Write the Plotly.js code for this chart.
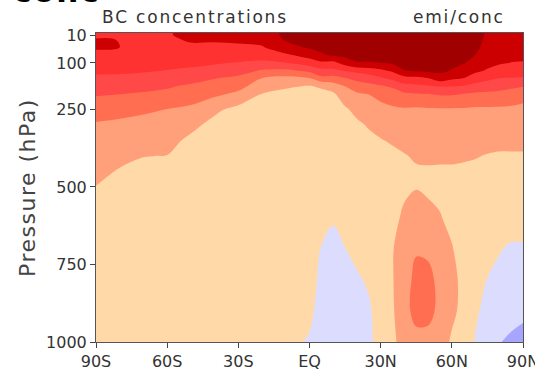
<!DOCTYPE html>
<html>
<head>
<meta charset="utf-8">
<script src="https://cdn.plot.ly/plotly-3.0.1.min.js"></script>
<style>
  html, body { margin: 0; padding: 0; background: #fff; }
  #chart { width: 535px; height: 371px; }
  .annotation-text { letter-spacing: 1.8px; }
  .ytitle { letter-spacing: 1.5px; }
</style>
</head>
<body>
<div id="chart"></div>
<script>
// Latitudes (deg, negative = south) and pressure levels (hPa)
const LAT = [-90,-80,-70,-60,-50,-40,-30,-20,-10,0,5,10,15,20,25,30,35,40,45,50,55,60,65,70,75,80,85,90];
const PRES = [3,10,25,50,75,100,125,150,175,200,250,300,350,400,450,500,600,700,800,900,1000];

// Shading class, one vertical profile per latitude
// (0 = blue ... 2 = neutral ... 8 = darkest red)
const prof_s90 = [6.2,6.2,6.6,6.6,6.25,5.9,5.65,5.35,5.0,4.6,3.95,3.4,3.2,3.0,2.75,2.48,2.1,2.0,2.0,2.0,2.0];
const prof_s80 = [6.2,6.2,6.48,6.5,6.15,5.85,5.62,5.35,5.05,4.52,3.8,3.3,3.0,2.75,2.42,2.2,2.0,2.0,2.0,2.0,2.0];
const prof_s70 = [6.2,6.2,6.15,6.05,5.9,5.75,5.56,5.3,4.8,4.4,3.65,3.2,2.85,2.52,2.3,2.15,2.0,2.0,2.0,2.0,2.0];
const prof_s60 = [6.4,6.4,6.3,6.05,5.85,5.7,5.48,5.1,4.6,4.3,3.48,3.1,2.8,2.48,2.3,2.15,2.0,2.0,2.0,2.0,2.0];
const prof_s50 = [6.8,6.8,6.62,6.3,5.95,5.7,5.35,4.85,4.35,4.0,3.3,2.75,2.3,2.1,2.0,2.0,2.0,2.0,2.0,2.0,2.0];
const prof_s40 = [6.8,6.8,6.6,6.3,5.9,5.57,5.2,4.52,4.15,3.7,2.7,2.2,2.05,2.0,2.0,2.0,2.0,2.0,2.0,2.0,2.0];
const prof_s30 = [6.9,6.9,6.7,6.3,5.85,5.45,4.9,4.25,3.8,3.3,2.2,2.05,2.0,2.0,2.0,2.0,2.0,2.0,2.0,2.0,2.0];
const prof_s20 = [7.1,7.1,6.85,6.4,5.85,5.35,4.4,3.48,3.0,2.48,2.1,2.0,2.0,2.0,2.0,2.0,2.0,2.0,2.0,2.0,2.0];
const prof_s10 = [7.65,7.65,7.58,7.2,6.3,5.48,4.3,3.2,2.6,2.3,2.1,2.0,2.0,2.0,2.0,2.0,2.0,2.0,2.0,2.0,1.95];
const prof_eq  = [7.9,7.9,7.8,7.6,6.9,6.0,4.7,3.45,2.45,2.25,2.1,2.0,2.0,2.0,2.0,2.0,2.0,2.0,2.0,1.8,1.35];
const prof_n05 = [8.0,8.0,7.9,7.7,7.4,6.3,5.2,4.2,2.6,2.3,2.1,2.0,2.0,2.0,2.0,2.0,1.9,1.45,1.2,1.0,0.95];
const prof_n10 = [8.1,8.1,8.0,7.8,7.6,6.2,5.3,4.1,3.0,2.35,2.1,2.0,2.0,2.0,2.0,2.0,1.6,1.2,1.0,0.9,0.9];
const prof_n15 = [8.1,8.1,8.0,7.85,7.75,6.9,5.55,4.45,3.52,3.1,2.35,2.1,2.0,2.0,2.0,2.0,1.95,1.48,1.2,1.0,1.0];
const prof_n20 = [8.1,8.1,8.0,7.9,7.75,7.45,5.8,4.7,4.1,3.35,2.8,2.3,2.1,2.0,2.0,2.0,2.0,1.8,1.35,1.1,1.1];
const prof_n25 = [8.1,8.1,8.0,7.9,7.75,7.45,6.0,5.0,4.2,3.52,3.1,2.6,2.25,2.0,2.0,2.0,2.0,2.0,1.65,1.35,1.3];
const prof_n30 = [8.1,8.1,8.0,7.9,7.75,7.48,6.3,5.35,4.4,3.7,3.3,2.8,2.45,2.2,2.05,2.0,2.0,2.0,2.0,2.0,1.9];
const prof_n35 = [8.1,8.1,8.05,7.95,7.85,7.65,6.65,5.7,4.65,4.05,3.35,3.0,2.6,2.3,2.1,2.0,2.2,2.45,2.45,2.4,2.3];
const prof_n40 = [8.1,8.1,8.05,8.0,7.9,7.75,7.48,6.1,5.2,4.35,3.4,3.05,2.75,2.45,2.25,2.3,2.7,2.95,3.05,3.1,2.9];
const prof_n45 = [8.1,8.1,8.05,8.0,7.95,7.8,7.6,6.2,5.3,4.45,3.35,3.1,2.85,2.6,2.4,2.45,3.0,3.4,3.8,3.9,3.1];
const prof_n50 = [8.1,8.1,8.05,8.0,7.95,7.85,7.7,6.45,5.4,4.48,3.4,3.15,2.9,2.65,2.4,2.35,2.75,3.3,3.8,3.85,3.1];
const prof_n55 = [8.1,8.1,8.05,8.0,7.95,7.85,7.7,7.05,5.55,4.6,3.4,3.15,2.9,2.62,2.4,2.3,2.55,2.95,3.2,3.2,2.85];
const prof_n60 = [8.1,8.1,8.05,7.95,7.85,7.7,7.45,6.65,5.55,4.6,3.4,3.15,2.9,2.62,2.4,2.2,2.3,2.55,2.7,2.65,2.4];
const prof_n65 = [8.1,8.1,8.0,7.9,7.75,7.55,7.1,6.48,5.45,4.48,3.4,3.15,2.9,2.6,2.35,2.2,2.1,2.15,2.3,2.3,2.0];
const prof_n70 = [8.0,8.0,7.9,7.7,7.48,7.15,6.7,5.95,5.2,4.35,3.35,3.1,2.85,2.55,2.3,2.1,2.0,1.95,1.85,1.6,1.45];
const prof_n75 = [7.3,7.3,7.25,7.15,7.0,6.8,6.4,5.7,5.05,4.3,3.35,3.1,2.8,2.45,2.25,2.1,1.95,1.7,1.48,1.3,1.1];
const prof_n80 = [7.2,7.2,7.15,7.0,6.8,6.6,6.1,5.48,4.85,4.25,3.35,3.05,2.75,2.4,2.2,2.05,1.9,1.55,1.3,1.05,0.55];
const prof_n85 = [7.2,7.2,7.1,6.95,6.75,6.48,6.0,5.45,4.75,4.0,3.35,3.05,2.75,2.4,2.2,2.05,1.85,1.4,1.2,0.9,0.3];
const prof_n90 = [7.2,7.2,7.1,6.9,6.7,6.45,5.95,5.4,4.55,3.8,3.3,3.05,2.75,2.4,2.2,2.05,1.85,1.4,1.15,0.75,0.1];

const PROFILES = [prof_s90,prof_s80,prof_s70,prof_s60,prof_s50,prof_s40,prof_s30,prof_s20,prof_s10,
                  prof_eq,prof_n05,prof_n10,prof_n15,prof_n20,prof_n25,prof_n30,prof_n35,prof_n40,
                  prof_n45,prof_n50,prof_n55,prof_n60,prof_n65,prof_n70,prof_n75,prof_n80,prof_n85,prof_n90];

// Shading colours, lowest class first
const SHADES = ['#A6A6FF','#DCDCFF','#FFDAA8','#FFA07A','#FF6E50','#FF4848','#FF3232','#CC0000','#A00000'];

const XTICKS = [-90,-60,-30,0,30,60,90];
const XLABELS = ['90S','60S','30S','EQ','30N','60N','90N'];
const YTICKS = [10,100,250,500,750,1000];
const YLABELS = ['10','100','250','500','750','1000'];

// stepped colour scale: fill of class k is sampled at (k+0.5)/8
const stops = [0,0.125,0.25,0.375,0.5,0.625,0.75,0.875,0.97,1];
const colorscale = [];
for (let k = 0; k < SHADES.length; k++) {
  colorscale.push([stops[k], SHADES[k]]);
  colorscale.push([stops[k+1], SHADES[k]]);
}

const trace = {
  type: 'contour',
  x: LAT,
  y: PRES,
  z: PROFILES,
  transpose: true,
  autocontour: false,
  contours: {start: 0.5, end: 7.5, size: 1, coloring: 'fill', showlines: false},
  line: {width: 0, smoothing: 1},
  colorscale: colorscale,
  showscale: false,
  hoverinfo: 'skip'
};

const axisFont = {family: 'DejaVu Sans', size: 16, color: '#333'};
const layout = {
  width: 535, height: 371,
  margin: {l: 96, r: 12, t: 33, b: 29, pad: 0},
  paper_bgcolor: '#fff', plot_bgcolor: '#fff',
  showlegend: false,
  xaxis: {
    range: [-90, 90], tickvals: XTICKS, ticktext: XLABELS,
    ticks: 'outside', ticklen: 5, tickcolor: '#444', tickwidth: 1,
    showline: true, linecolor: '#555', linewidth: 1, mirror: true,
    showgrid: false, zeroline: false, tickfont: axisFont,
    ticklabeloverflow: 'allow'
  },
  yaxis: {
    range: [1000, 3.5], tickvals: YTICKS, ticktext: YLABELS,
    ticks: 'outside', ticklen: 5, tickcolor: '#444', tickwidth: 1,
    showline: true, linecolor: '#555', linewidth: 1, mirror: true,
    showgrid: false, zeroline: false, tickfont: axisFont,
    ticklabeloverflow: 'allow',
    title: {text: 'Pressure (hPa)', font: {family: 'DejaVu Sans', size: 22, color: '#444'}, standoff: 4}
  },
  annotations: [
    {text: 'BC concentrations', xref: 'paper', yref: 'paper', x: 0.0094, y: 1.013,
     xanchor: 'left', yanchor: 'bottom', showarrow: false,
     font: {family: 'DejaVu Sans', size: 17, color: '#333'}},
    {text: 'emi/conc', xref: 'paper', yref: 'paper', x: 0.962, y: 1.013,
     xanchor: 'right', yanchor: 'bottom', showarrow: false,
     font: {family: 'DejaVu Sans', size: 17, color: '#333'}},
    {text: '<b>conc</b>', xref: 'paper', yref: 'paper', x: -0.2, y: 1.07,
     xanchor: 'left', yanchor: 'bottom', showarrow: false,
     font: {family: 'DejaVu Sans', size: 31, color: '#000'}}
  ]
};

Plotly.newPlot('chart', [trace], layout, {staticPlot: true, displayModeBar: false});
</script>
</body>
</html>
